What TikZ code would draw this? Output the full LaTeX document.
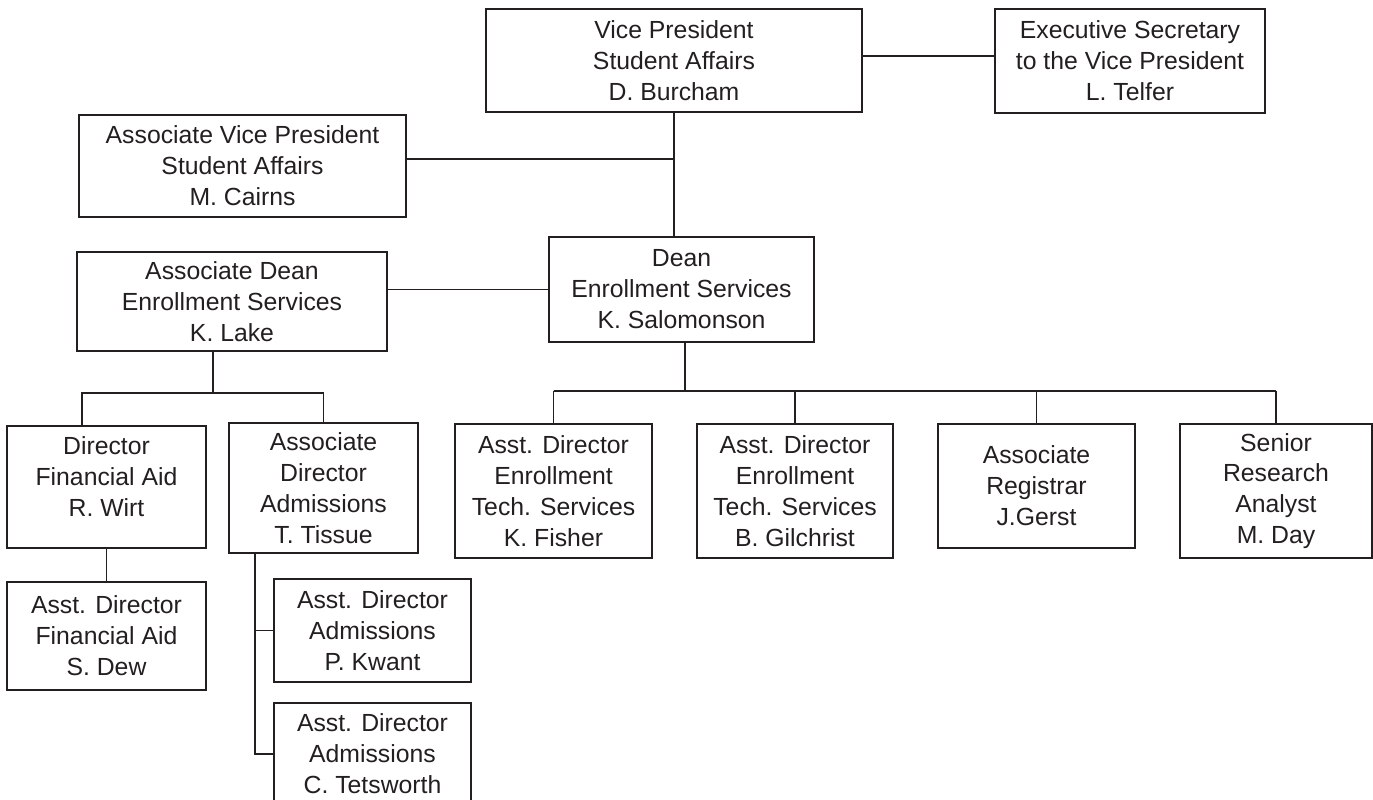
\documentclass[tikz,border=0pt]{standalone}
\usepackage{fontspec}
\setmainfont{Liberation Sans}
\usetikzlibrary{positioning}
\definecolor{ink}{RGB}{35,31,32}
\tikzset{
  unit/.style={draw=ink,line width=1pt,text=ink,align=center,inner sep=0pt,
    font=\fontsize{14.1}{17.6}\selectfont},
  tag/.style={text=ink,align=center,inner sep=0pt,font=\fontsize{14.1}{17.6}\selectfont},
  link/.style={draw=ink,line width=1pt},
}
\begin{document}
\begin{tikzpicture}[x=0.02cm,y=-0.02cm]
  \useasboundingbox (0,0) rectangle (1373,800);
  % top of the chart
  \node[unit,minimum width=7.52cm,minimum height=2.06cm] (vp) at (674,60.5) {Vice President\\Student Affairs\\D. Burcham};
  \node[unit,minimum width=5.4cm,minimum height=2.08cm] (exec) at (1130,61) {Executive Secretary\\to the Vice President\\L. Telfer};
  \node[unit,minimum width=6.54cm,minimum height=2.04cm] (avp) at (242.5,166) {Associate Vice President\\Student Affairs\\M. Cairns};
  \node[unit,minimum width=5.3cm,minimum height=2.1cm] (dean) at (681.5,289.5) {Dean\\Enrollment Services\\K. Salomonson};
  \node[unit,minimum width=6.2cm,minimum height=1.98cm] (adean) at (232,301.5) {Associate Dean\\Enrollment Services\\K. Lake};
  % under the associate dean
  \node[unit,minimum width=3.98cm,minimum height=2.44cm] (wirt) at (106.5,487) {};
  \node[tag] at (106.5,477) {Director\\Financial Aid\\R. Wirt};
  \node[unit,minimum width=3.78cm,minimum height=2.6cm] (tissue) at (323.5,488) {Associate\\Director\\Admissions\\T. Tissue};
  \node[unit,minimum width=3.98cm,minimum height=2.16cm] (dew) at (106.5,636) {Asst. Director\\Financial Aid\\S. Dew};
  \node[unit,minimum width=3.94cm,minimum height=2.06cm] (kwant) at (372.5,630.5) {Asst. Director\\Admissions\\P. Kwant};
  \node[unit,minimum width=3.94cm,minimum height=2.04cm] (tets) at (372.5,754) {Asst. Director\\Admissions\\C. Tetsworth};
  % under the dean
  \node[unit,minimum width=3.94cm,minimum height=2.68cm] (fisher) at (553.5,491) {Asst. Director\\Enrollment\\Tech. Services\\K. Fisher};
  \node[unit,minimum width=3.92cm,minimum height=2.68cm] (gilch) at (795,491) {Asst. Director\\Enrollment\\Tech. Services\\B. Gilchrist};
  \node[unit,minimum width=3.94cm,minimum height=2.48cm] (reg) at (1036.5,486) {Associate\\Registrar\\J.Gerst};
  \node[unit,minimum width=3.84cm,minimum height=2.68cm] (day) at (1276,491) {Senior\\Research\\Analyst\\M. Day};

  % connectors
  \coordinate (execj) at (0,56);
  \coordinate (avpj) at (vp.south |- 0,159);
  \coordinate (rail) at (685,391);
  \coordinate (adj) at (213,393);
  \coordinate (wirtj) at (82,393);
  \coordinate (tj) at (255,0);
  \draw[link] (vp.east |- execj) -- (exec.west |- execj);
  \draw[link] (vp.south) -- (vp.south |- dean.north);
  \draw[link] (avp.east |- avpj) -- (avpj);
  \draw[link] (dean.west) -- (dean.west -| adean.east);
  \draw[link] (dean.south -| rail) -- (rail);
  \draw[link] (fisher.north |- rail) -- (day.north |- rail);
  \foreach \n in {fisher,gilch,reg,day}
    \draw[link] (\n.north) -- (\n.north |- rail);
  \draw[link] (adean.south -| adj) -- (adj);
  \draw[link] (wirt.north -| wirtj) -- (wirtj) -- (tissue.north |- wirtj) -- (tissue.north);
  \draw[link] (wirt.south) -- (dew.north);
  \draw[link] (tissue.south -| tj) -- (tets.west -| tj) -- (tets.west);
  \draw[link] (kwant.west -| tj) -- (kwant.west);
\end{tikzpicture}
\end{document}
